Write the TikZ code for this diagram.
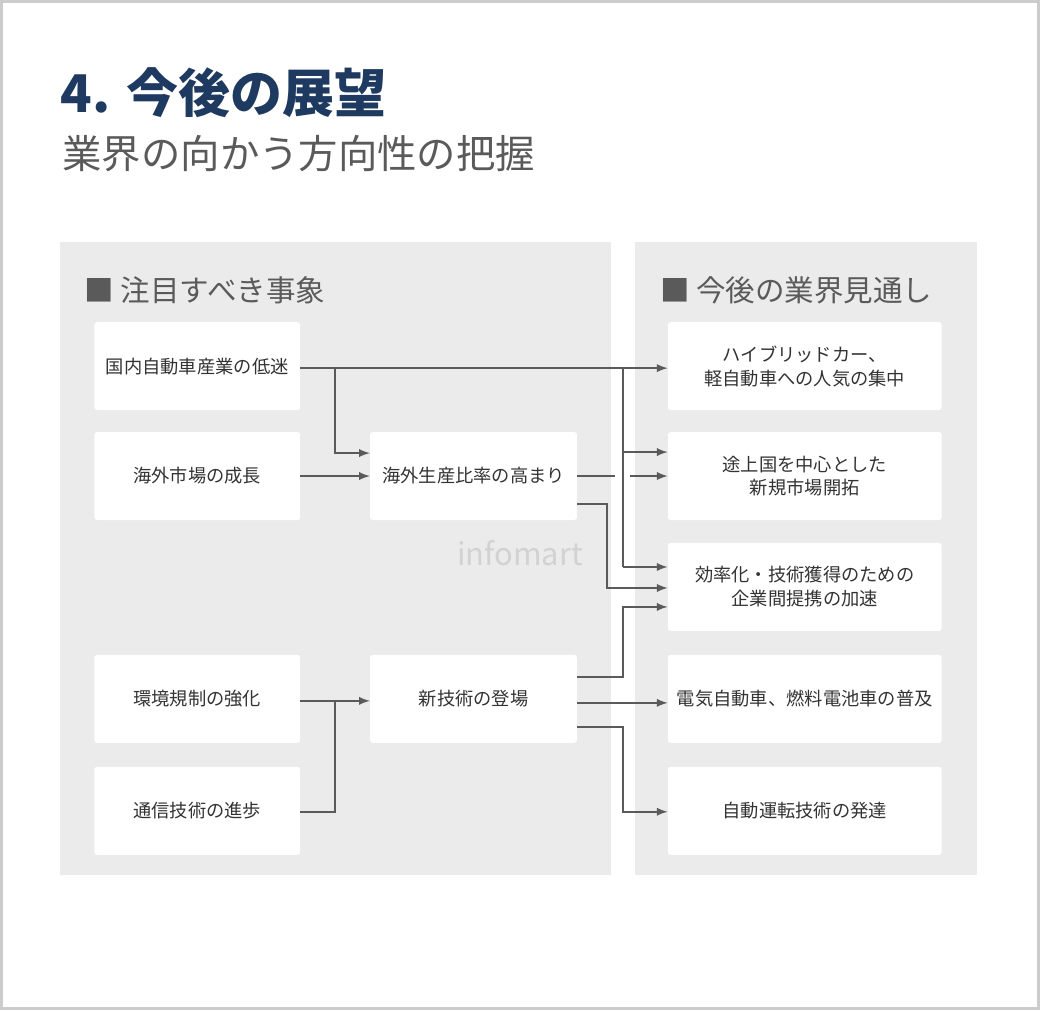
\documentclass[tikz,border=0pt]{standalone}
\usepackage{fontspec}
\setmainfont{Noto Sans CJK JP}
\usepackage{tikz}
\usetikzlibrary{arrows}
\definecolor{panelgray}{HTML}{EBEBEB}
\definecolor{linegray}{HTML}{5A5A5A}
\definecolor{titleblue}{HTML}{1F3A60}
\definecolor{textgray}{HTML}{333333}

\begin{document}
\begin{tikzpicture}[x=0.025cm,y=-0.025cm,
	box node/.style={fill=white,rounded corners=2pt,text=textgray,
		font=\fontsize{13}{17}\selectfont,align=center,
		minimum height=2.2cm,inner sep=0pt},
	left node/.style={box node,minimum width=5.15cm},
	mid node/.style={box node,minimum width=5.175cm},
	right node/.style={box node,minimum width=6.85cm},
	conn/.style={draw=linegray,line width=1.6pt},
	arr/.style={conn,-latex}]
	
	\fill[white] (0,0) rectangle (1040,1010);
	\draw[gray!40,line width=2pt] (1,1) rectangle (1039,1009);
	\node[anchor=base west,text=titleblue,inner sep=0pt] (T) at (60,112)
		{\fontsize{37}{40}\selectfont\bfseries 4. 今後の展望};
	\node[anchor=base west,text=linegray,inner sep=0pt] (S) at (62,168)
		{\fontsize{28}{32}\selectfont 業界の向かう方向性の把握};
	
	\fill[panelgray] (60,242) rectangle (611,875);
	\fill[panelgray] (635,242) rectangle (977,875);
	\node[anchor=west,text=linegray,inner sep=0pt] (HL) at (84,290)
		{\fontsize{21}{24}\selectfont ■ 注目すべき事象};
	\node[anchor=west,text=linegray,inner sep=0pt] (HR) at (660,290)
		{\fontsize{21}{24}\selectfont ■ 今後の業界見通し};
	\node[text=gray!35,font=\fontsize{22}{24}\selectfont] (W) at (520,553) {infomart};
	
	\node[left node] (L1) at (197,366) {国内自動車産業の低迷};
	\node[left node] (L2) at (197,476) {海外市場の成長};
	\node[left node] (L3) at (197,699) {環境規制の強化};
	\node[left node] (L4) at (197,811) {通信技術の進歩};
	\node[mid node] (M1) at (473.5,476) {海外生産比率の高まり};
	\node[mid node] (M2) at (473.5,699) {新技術の登場};
	\node[right node] (R1) at (805,366) {ハイブリッドカー、\\軽自動車への人気の集中};
	\node[right node] (R2) at (805,476) {途上国を中心とした\\新規市場開拓};
	\node[right node] (R3) at (805,587) {効率化・技術獲得のための\\企業間提携の加速};
	\node[right node] (R4) at (805,699) {電気自動車、燃料電池車の普及};
	\node[right node] (R5) at (805,811) {自動運転技術の発達};
	
	\draw[arr] (L1.east |- 0,368) -- (R1.west |- 0,368);
	\draw[arr] (335,368) |- (M1.west |- 0,453);
	\draw[conn] (623,368) -- (623,567);
	\draw[arr] (623,452) -- (R2.west |- 0,452);
	\draw[arr] (623,567) -- (R3.west |- 0,567);
	\draw[arr] (L2.east |- 0,476) -- (M1.west |- 0,476);
	\draw[conn] (M1.east |- 0,476) -- (615,476);
	\draw[arr] (630,476) -- (R2.west |- 0,476);
	\draw[arr] (M1.east |- 0,504) -| (607,588) -- (R3.west |- 0,588);
	\draw[arr] (M2.east |- 0,677) -| (623,607) -- (R3.west |- 0,607);
	\draw[arr] (M2.east |- 0,703) -- (R4.west |- 0,703);
	\draw[arr] (M2.east |- 0,727) -| (623,812) -- (R5.west |- 0,812);
	\draw[arr] (L3.east |- 0,701) -- (M2.west |- 0,701);
	\draw[conn] (L4.east |- 0,812) -| (335,701);
\end{tikzpicture}
\end{document}
